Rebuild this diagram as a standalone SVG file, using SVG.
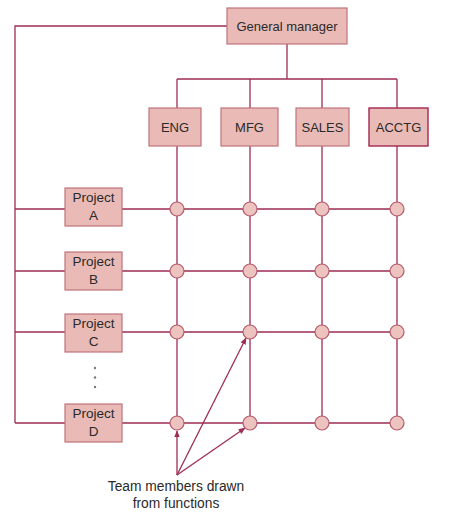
<svg xmlns="http://www.w3.org/2000/svg" width="451" height="513" viewBox="0 0 451 513">
<style>
.box{fill:#e9bab6;stroke:#c0737c;stroke-width:1.2}
.dark{stroke:#a3284f;stroke-width:1.4}
.ln{stroke:#9e2d55;stroke-width:1.3;fill:none}
.node circle{fill:#ecc3be;stroke:#b55a6c;stroke-width:1.2}
text{font-family:"Liberation Sans",Arial,sans-serif;font-size:13px;fill:#2a2a2a;text-anchor:middle}
.pj{font-size:13.5px}
.lbl{font-size:13.8px}
</style>
<defs>
<marker id="ah" viewBox="0 0 10 10" refX="9" refY="5" markerWidth="7" markerHeight="7" orient="auto-start-reverse" markerUnits="userSpaceOnUse">
<path d="M0,1 L10,5 L0,9 z" fill="#9e2d55"/>
</marker>
</defs>
<rect width="451" height="513" fill="#ffffff"/>
<g id="connectors">
<path class="ln" d="M227,26 H15 V423"/>
<path class="ln" d="M287,44 V79 M177,79 H397 M177,79 V108 M250,79 V108 M322,79 V108 M397,79 V108"/>
<path class="ln" d="M177,146 V423 M250,146 V423 M322,146 V423 M397,146 V423"/>
<path class="ln" d="M15,209 H397 M15,271 H397 M15,332 H397 M15,423 H397"/>
<path class="ln" d="M177,475 L177,431" marker-end="url(#ah)"/>
<path class="ln" d="M177,475 L245,428" marker-end="url(#ah)"/>
<path class="ln" d="M177,475 L246,338" marker-end="url(#ah)"/>
</g>
<g id="gm"><rect class="box" x="227" y="8" width="120" height="36"/><text x="287" y="30.5">General manager</text></g>
<g id="eng"><rect class="box" x="149" y="108" width="52" height="38"/><text x="175" y="131.5">ENG</text></g>
<g id="mfg"><rect class="box" x="221" y="108" width="57" height="38"/><text x="249.5" y="131.5">MFG</text></g>
<g id="sales"><rect class="box" x="296" y="108" width="53" height="38"/><text x="322.5" y="131.5">SALES</text></g>
<g id="acctg"><rect class="box dark" x="369" y="108" width="59" height="38"/><text x="398.5" y="131.5">ACCTG</text></g>
<g id="projA"><rect class="box" x="65" y="188" width="57" height="38"/><text class="pj" x="93.5" y="202">Project</text><text class="pj" x="93.5" y="219.5">A</text></g>
<g id="projB"><rect class="box" x="65" y="252" width="57" height="38"/><text class="pj" x="93.5" y="266">Project</text><text class="pj" x="93.5" y="283.5">B</text></g>
<g id="projC"><rect class="box" x="65" y="314" width="57" height="38"/><text class="pj" x="93.5" y="328">Project</text><text class="pj" x="93.5" y="345.5">C</text></g>
<g id="projD"><rect class="box" x="65" y="404" width="57" height="38"/><text class="pj" x="93.5" y="418">Project</text><text class="pj" x="93.5" y="435.5">D</text></g>
<g id="dots" fill="#777"><circle cx="95" cy="368" r="1.2"/><circle cx="95" cy="377.5" r="1.2"/><circle cx="95" cy="387" r="1.2"/></g>
<g id="intersections" class="node">
<circle cx="177" cy="209" r="7"/><circle cx="250" cy="209" r="7"/><circle cx="322" cy="209" r="7"/><circle cx="397" cy="209" r="7"/>
<circle cx="177" cy="271" r="7"/><circle cx="250" cy="271" r="7"/><circle cx="322" cy="271" r="7"/><circle cx="397" cy="271" r="7"/>
<circle cx="177" cy="332" r="7"/><circle cx="250" cy="332" r="7"/><circle cx="322" cy="332" r="7"/><circle cx="397" cy="332" r="7"/>
<circle cx="177" cy="423" r="7"/><circle cx="250" cy="423" r="7"/><circle cx="322" cy="423" r="7"/><circle cx="397" cy="423" r="7"/>
</g>
<g id="label"><text class="lbl" x="176" y="491">Team members drawn</text><text class="lbl" x="176" y="507.5">from functions</text></g>
</svg>
